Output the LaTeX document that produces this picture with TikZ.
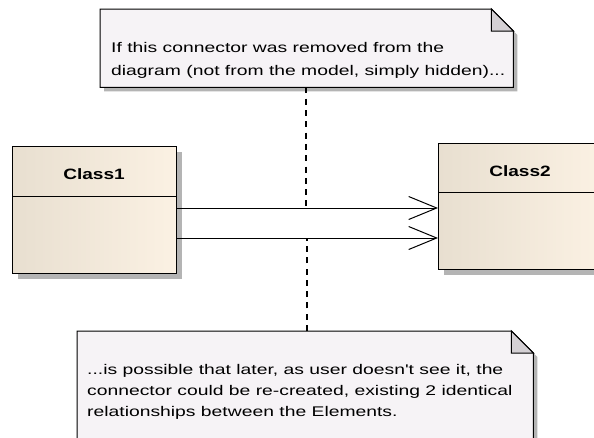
\documentclass[tikz,border=0pt]{standalone}
\usepackage{fontspec}
\setmainfont{Liberation Sans}[Ligatures=TeXOff]
\usepackage{graphicx}
\usetikzlibrary{arrows.meta,calc,shadows}
\definecolor{notefill}{HTML}{F6F3F6}
\definecolor{foldfill}{HTML}{D4D0D4}
\definecolor{shadowc}{HTML}{B4B4B4}
\definecolor{classL}{HTML}{E8DFD0}
\definecolor{classR}{HTML}{FBF1E3}
\newcommand\sxnote[1]{\scalebox{1.38}[1]{#1}}
\newcommand\sxcls[1]{\scalebox{1.27}[1]{#1}}
\tikzset{
  classbox/.style={draw=black, line width=1pt, left color=classL, right color=classR,
    minimum width=164pt, anchor=north west, inner sep=0pt,
    drop shadow={shadow xshift=5pt, shadow yshift=-5pt, fill=shadowc, opacity=1}},
  clsname/.style={font=\fontsize{15}{17}\selectfont\bfseries, inner sep=0pt, anchor=base},
  noteanchor/.style={draw=none, inner sep=0pt, anchor=north west},
  noteline/.style={draw=black, line width=1pt, fill=notefill},
  notetext/.style={font=\fontsize{14}{16}\selectfont, inner sep=0pt, anchor=base west},
  assoc/.style={draw=black, line width=1pt, -{Straight Barb[length=28pt, width=23pt, line width=1pt]}},
  notelink/.style={draw=black, line width=1.3pt, dash pattern=on 6pt off 5.3pt},
}
\begin{document}
\begin{tikzpicture}[x=1pt,y=-1pt]
\useasboundingbox (0,0) rectangle (594,437);
\clip (0,0) rectangle (594,437);
\fill[white] (0,0) rectangle (594,437);

% top note
\node[noteanchor, minimum width=413pt, minimum height=78pt] (note1) at (100,9) {};
\fill[shadowc] ($(note1.north east)+(4,26)$) -- ($(note1.south east)+(4,4)$) -- ($(note1.south west)+(4,4)$) -- ($(note1.south west)+(4,0)$) -- ($(note1.south east)+(0,0)$) -- ($(note1.north east)+(0,22)$) -- cycle;
\draw[noteline] (note1.north west) -- ($(note1.north east)+(-22,0)$) -- ($(note1.north east)+(0,22)$) -- (note1.south east) -- (note1.south west) -- cycle;
\draw[black, line width=1pt, fill=foldfill] ($(note1.north east)+(-22,0)$) -- ($(note1.north east)+(-22,22)$) -- ($(note1.north east)+(0,22)$) -- cycle;
\node[notetext] (t1a) at (111,52.5) {\sxnote{If this connector was removed from the}};
\node[notetext] (t1b) at (111,75.5) {\sxnote{diagram (not from the model, simply hidden)...}};

% bottom note
\node[noteanchor, minimum width=456pt, minimum height=120pt] (note2) at (77,331) {};
\fill[shadowc] ($(note2.north east)+(4,26)$) -- ($(note2.south east)+(4,4)$) -- ($(note2.south east)+(0,0)$) -- ($(note2.north east)+(0,22)$) -- cycle;
\draw[noteline] (note2.north west) -- ($(note2.north east)+(-22,0)$) -- ($(note2.north east)+(0,22)$) -- (note2.south east) -- (note2.south west) -- cycle;
\draw[black, line width=1pt, fill=foldfill] ($(note2.north east)+(-22,0)$) -- ($(note2.north east)+(-22,22)$) -- ($(note2.north east)+(0,22)$) -- cycle;
\node[notetext] (t2a) at (87,374) {\sxnote{...is possible that later, as user doesn't see it, the}};
\node[notetext] (t2b) at (87,395) {\sxnote{connector could be re-created, existing 2 identical}};
\node[notetext] (t2c) at (87,416) {\sxnote{relationships between the Elements.}};

% classes
\node[classbox, minimum height=127pt] (c1) at (12,146) {};
\draw[line width=1pt] ($(c1.north west)+(0,50)$) -- ($(c1.north east)+(0,50)$);
\node[clsname] (c1n) at (94,179) {\sxcls{Class1}};

\node[classbox, minimum height=126pt] (c2) at (438,143) {};
\draw[line width=1pt] ($(c2.north west)+(0,49)$) -- ($(c2.north east)+(0,49)$);
\node[clsname] (c2n) at (520,176.5) {\sxcls{Class2}};

% connectors
\coordinate (m1) at (306,208);
\coordinate (m2) at (307,238);
\draw[assoc] (c1.east |- m1) -- (c2.west |- m1);
\draw[assoc] (c1.east |- m2) -- (c2.west |- m2);

% note links
\draw[notelink] (note1.south -| m1) -- (m1);
\draw[notelink] (note2.north -| m2) -- (m2);
\end{tikzpicture}
\end{document}
